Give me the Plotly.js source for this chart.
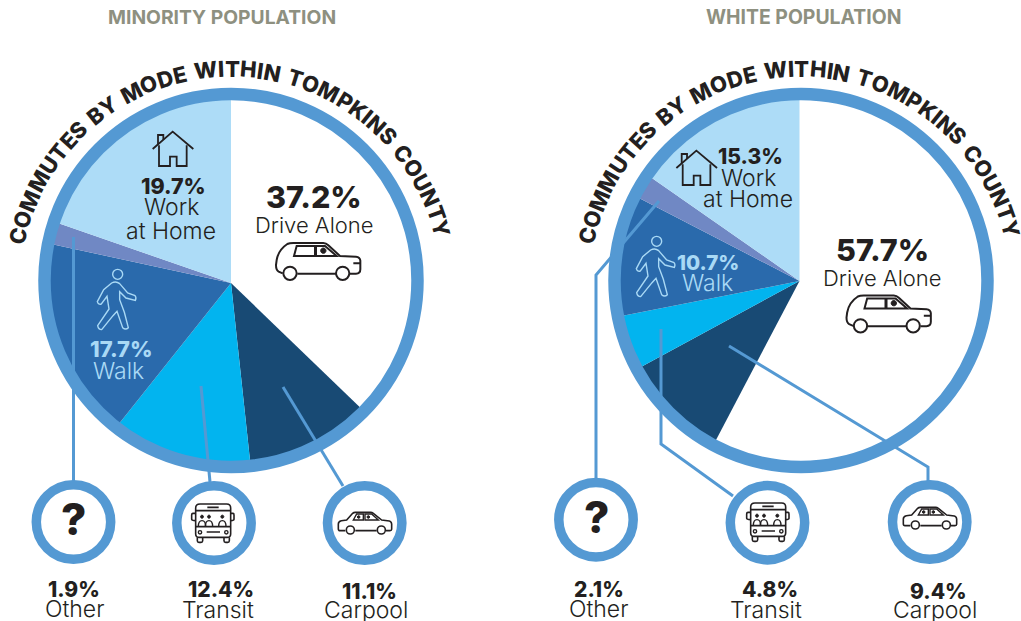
<!DOCTYPE html>
<html><head><meta charset="utf-8">
<script src="https://cdn.plot.ly/plotly-3.0.1.min.js"></script>
<style>html,body{margin:0;padding:0;background:#fff;overflow:hidden}#c{width:1021px;height:621px}</style>
</head><body><div id="c"></div>
<script>
var W = 1021, H = 621;
var modes = ['Drive Alone', 'Carpool', 'Transit', 'Walk', 'Other', 'Work at Home'];
var minorityValues = [37.2, 11.1, 12.4, 17.7, 1.9, 19.7];
var whiteValues = [57.7, 9.4, 4.8, 10.7, 2.1, 15.3];
var sliceColors = ['#ffffff', '#184a74', '#02b4ef', '#2a6aac', '#7088c4', '#addcf7'];
var panelTitles = ['MINORITY POPULATION', 'WHITE POPULATION'];
var arcTitle = 'COMMUTES BY MODE WITHIN TOMPKINS COUNTY';

var FONT = 'Inter, Roboto, sans-serif', INK = '#231f20', RING = '#5499d3', PALE = '#a9d9f5';
var fx = function (x) { return x / W; }, fy = function (y) { return 1 - y / H; };

function pieTrace(values, cx, cy, R) {
  return { type: 'pie', labels: modes, values: values, sort: false, direction: 'clockwise', rotation: 0,
    textinfo: 'none', hoverinfo: 'label+percent', showlegend: false,
    marker: { colors: sliceColors, line: { width: 0 } },
    domain: { x: [fx(cx - R), fx(cx + R)], y: [fy(cy + R), fy(cy - R)] } };
}
function pct(v) { return v.toFixed(1) + '%'; }

var shapes = [], annotations = [];
function txt(t, x, y, size, weight, color, angle) {
  annotations.push({ text: t, x: fx(x), y: fy(y), xref: 'paper', yref: 'paper', showarrow: false,
    xanchor: 'center', yanchor: 'middle', textangle: angle || 0, borderpad: 0,
    font: { family: FONT, size: size, weight: weight, color: color || INK } });
}
/* Decoration paths are authored at 3x scale with absolute M/L/Q/C/Z commands. */
function path(d, ox, oy, color, width, fill) {
  var i = 0;
  var out = d.replace(/-?\d+(\.\d+)?/g, function (n) {
    var v = parseFloat(n), r;
    r = (i % 2 === 0) ? fx(v / 3 + ox) : fy(v / 3 + oy);
    i++;
    return r.toFixed(5);
  });
  shapes.push({ type: 'path', path: out, xref: 'paper', yref: 'paper', layer: 'above',
    line: { color: color, width: width }, fillcolor: fill || 'rgba(0,0,0,0)' });
}
function circ(cx, cy, r) {
  var k = r * 0.5523;
  return 'M' + (cx - r) + ' ' + cy +
    'C' + (cx - r) + ' ' + (cy - k) + ' ' + (cx - k) + ' ' + (cy - r) + ' ' + cx + ' ' + (cy - r) +
    'C' + (cx + k) + ' ' + (cy - r) + ' ' + (cx + r) + ' ' + (cy - k) + ' ' + (cx + r) + ' ' + cy +
    'C' + (cx + r) + ' ' + (cy + k) + ' ' + (cx + k) + ' ' + (cy + r) + ' ' + cx + ' ' + (cy + r) +
    'C' + (cx - k) + ' ' + (cy + r) + ' ' + (cx - r) + ' ' + (cy + k) + ' ' + (cx - r) + ' ' + cy + 'Z';
}
function ring(cx, cy, r, w) { path(circ(cx * 3, cy * 3, r * 3), 0, 0, RING, w); }
function polyline(pts) {
  path('M' + pts.map(function (p) { return (p[0] * 3) + ' ' + (p[1] * 3); }).join('L'), 0, 0, RING, 3);
}

function bigCar(ox, oy) {
  var d = 'M848 820L836 815Q828 810 828 795L830 780Q835 750 862 732Q868 729 880 729L970 729Q978 729 985 736L1020 768L1068 770Q1080 771 1081 782L1081 808Q1081 821 1068 821L1050 821M1008 821L892 821';
  path(d, ox, oy, INK, 2);
  path(circ(870, 820, 20), ox, oy, INK, 2);
  path(circ(1028, 820, 20), ox, oy, INK, 2);
  path('M882 768L890 738L945 738L945 768ZM948 738L975 738L1010 768L948 768ZM1060 790L1081 790', ox, oy, INK, 2);
  path(circ(970, 752, 8), ox, oy, INK, 1, INK);
}
function smallCar(ox, oy) {
  var d = 'M1036 692L1020 692Q1015 692 1015 686L1015 672Q1015 664 1024 662L1040 660L1058 640Q1061 637 1066 637L1112 637Q1116 637 1120 640L1145 660L1168 663Q1174 664 1175 672L1175 688Q1175 692 1170 692L1158 692M1130 692L1066 692';
  path(d, ox, oy, INK, 1.6);
  path(circ(1051, 690, 12), ox, oy, INK, 1.6);
  path(circ(1144, 690, 12), ox, oy, INK, 1.6);
  path('M1060 660L1070 642L1090 642L1090 660ZM1095 642L1115 642L1135 660L1095 660Z', ox, oy, INK, 1.4);
  path(circ(1076, 651, 4), ox, oy, INK, 1, INK);
  path(circ(1105, 651, 4), ox, oy, INK, 1, INK);
}
function bus(ox, oy) {
  path('M600 612L680 612Q692 612 692 624L692 702Q692 712 682 712L597 712Q587 712 587 702L587 624Q587 612 600 612Z', ox, oy, INK, 1.6);
  path('M587 640L579 640Q575 640 575 645L575 658Q575 662 587 662M692 640L699 640Q702 640 702 645L702 658Q702 662 692 662', ox, oy, INK, 1.6);
  path('M587 632L692 632M622 622L656 622M587 680L692 680M620 696L660 696', ox, oy, INK, 1.6);
  path('M592 712L592 722Q592 727 597 727L603 727Q608 727 608 722L608 712M672 712L672 722Q672 727 677 727L683 727Q688 727 688 722L688 712', ox, oy, INK, 1.6);
  path(circ(600, 697, 5), ox, oy, INK, 1.4);
  path(circ(679, 697, 5), ox, oy, INK, 1.4);
  [606, 627, 667].forEach(function (x) {
    path(circ(x, 650, 4.5), ox, oy, INK, 1, INK);
    path('M' + (x - 11) + ' 680Q' + (x - 11) + ' 662 ' + x + ' 662Q' + (x + 11) + ' 662 ' + (x + 11) + ' 680', ox, oy, INK, 1.4);
  });
}
function house(ox, oy) {
  path('M458 447L518 395L580 447', ox, oy, INK, 1.8);
  path('M474 433L474 405L490 405L490 419', ox, oy, INK, 1.8);
  path('M477 436L477 498L510 498L510 470L530 470L530 498L560 498L560 436', ox, oy, INK, 1.8);
}
function walker(ox, oy) {
  path(circ(290, 724, 15), ox, oy, PALE, 1.4);
  path('M272 750L248 770L229 806Q232 816 241 813L258 790L264 828L230 878Q232 890 242 890L276 848L288 835L305 884Q314 892 322 884L310 838L296 800L296 776L315 795L343 802Q347 794 342 788L320 780L296 752Q285 743 272 750Z', ox, oy, PALE, 1.4);
}

/* curved panel heading: one annotation per letter */
function arcText(str, cx, cy, r, startDeg, endDeg, size) {
  var ctx = document.createElement('canvas').getContext('2d');
  ctx.font = '800 ' + size + 'px Inter';
  var adv = str.split('').map(function (c) { return ctx.measureText(c).width * (c === ' ' ? 1.4 : 1); });
  var total = adv.reduce(function (a, b) { return a + b; }, 0) - adv[0] / 2 - adv[adv.length - 1] / 2;
  var span = endDeg - startDeg, run = 0;
  str.split('').forEach(function (c, i) {
    var a = startDeg + span * (run / total);
    if (c !== ' ') {
      var rad = a * Math.PI / 180;
      txt(c, cx + r * Math.sin(rad), cy - r * Math.cos(rad), size, 800, INK, a);
    }
    run += adv[i] / 2 + (i + 1 < adv.length ? adv[i + 1] / 2 : 0);
  });
}

/* ---------- left panel ---------- */
txt(panelTitles[0], 222, 17, 19.3, 700, '#8e9080');
arcText(arcTitle, 230.4, 287, 218.4, -76.5, 74.6, 22);
polyline([[73.5, 237], [73.5, 481]]);
polyline([[201, 386], [210, 482]]);
polyline([[283, 387], [343, 486]]);
ring(231, 280.5, 186.5, 12.5);
ring(73.5, 522, 37.2, 9.5);
ring(214, 523, 37.2, 9.5);
ring(364.7, 523, 37.2, 9.5);
txt(pct(minorityValues[0]), 314, 196, 30.5, 800);
txt(modes[0], 314, 225, 22, 300);
bigCar(0, 0);
house(0, 0);
txt(pct(minorityValues[5]), 173, 186, 21.5, 800);
txt('Work', 171, 207, 23, 300);
txt('at Home', 171, 231, 23, 300);
walker(21, 33);
txt(pct(minorityValues[3]), 121, 349, 22, 800, PALE);
txt(modes[3], 118, 371, 23, 300, PALE);
txt('?', 73, 519, 44, 800);
bus(0, 300);
smallCar(0, 300);
txt(pct(minorityValues[4]), 74, 589, 21, 800);
txt(modes[4], 74, 609, 23, 300);
txt(pct(minorityValues[2]), 221, 589, 21, 800);
txt(modes[2], 218, 610, 23, 300);
txt(pct(minorityValues[1]), 369, 591, 21, 800);
txt(modes[1], 366, 610, 23, 300);

/* ---------- right panel ---------- */
txt(panelTitles[1], 803, 17, 19.4, 700, '#8e9080');
arcText(arcTitle, 800, 287, 218.4, -76.5, 74.6, 22);
polyline([[659, 201], [596, 275], [596, 479]]);
polyline([[661, 329], [661, 444], [733, 496]]);
polyline([[729, 346], [928, 467], [928, 481]]);
ring(801, 280.5, 186.5, 12.5);
ring(596, 519.7, 37.2, 9.5);
ring(767.5, 522.7, 37.2, 9.5);
ring(929.7, 522, 37.2, 9.5);
txt(pct(whiteValues[0]), 882.7, 249, 30.5, 800);
txt(modes[0], 882, 278, 22, 300);
bigCar(570.5, 52.5);
house(523.7, 19);
txt(pct(whiteValues[5]), 750.7, 156, 21, 800);
txt('Work', 748, 178, 23, 300);
txt('at Home', 748, 199, 23, 300);
walker(560, 0);
txt(pct(whiteValues[3]), 708, 262, 20.5, 800, PALE);
txt(modes[3], 707, 283, 23, 300, PALE);
txt('?', 596, 517, 44, 800);
bus(555, 299);
smallCar(565, 295);
txt(pct(whiteValues[4]), 598.5, 589, 21, 800);
txt(modes[4], 598, 609, 23, 300);
txt(pct(whiteValues[2]), 770, 589, 21, 800);
txt(modes[2], 766, 610, 23, 300);
txt(pct(whiteValues[1]), 938, 591, 21, 800);
txt(modes[1], 935, 610, 23, 300);

Plotly.newPlot('c', [pieTrace(minorityValues, 231, 283, 184), pieTrace(whiteValues, 799.5, 281, 184)], {
  width: W, height: H, margin: { l: 0, r: 0, t: 0, b: 0 }, paper_bgcolor: '#fff', plot_bgcolor: '#fff',
  showlegend: false, shapes: shapes, annotations: annotations
}, { displayModeBar: false, staticPlot: true });
</script></body></html>
